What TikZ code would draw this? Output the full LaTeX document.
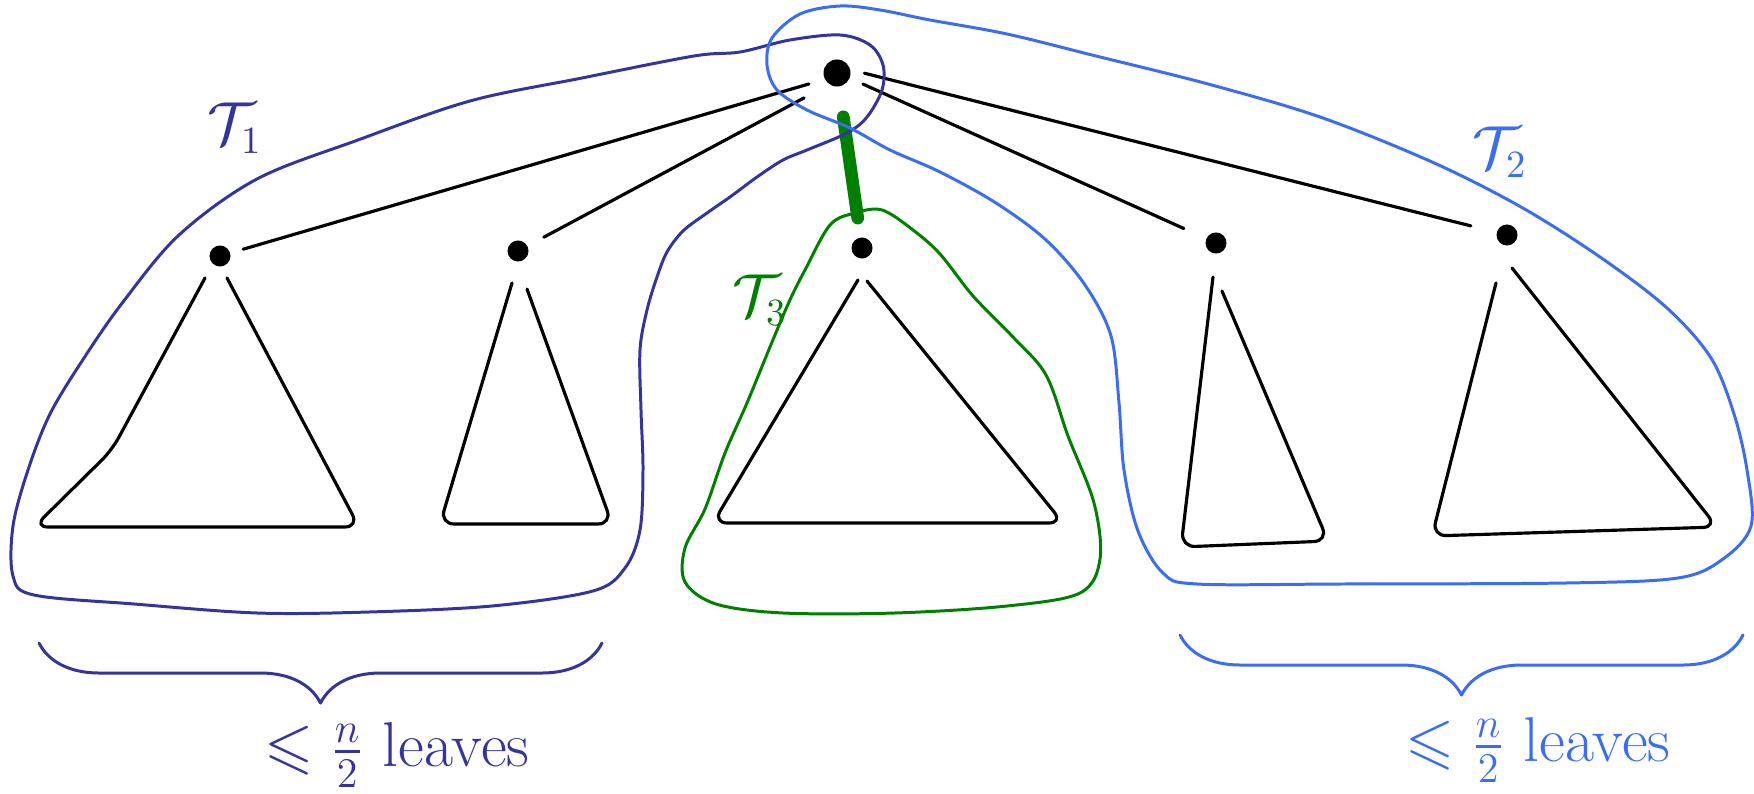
\documentclass[tikz,border=0pt]{standalone}
\usepackage{amsmath}
\usepackage{amssymb}
\usepackage{tikz}
\usetikzlibrary{decorations.pathreplacing, positioning, calc}
\definecolor{colorUno}{RGB}{52,52,158}
\definecolor{colorDos}{RGB}{58,108,245}
\definecolor{colorTres}{RGB}{0,128,0}

\begin{document}
\begin{tikzpicture}[x=0.01cm, y=-0.01cm, line cap=round, line join=round,
        vertex/.style={circle, fill=black, inner sep=0pt, minimum size=0.21cm},
        link/.style={black, line width=0.9pt, shorten >=0.12cm},
        heavy/.style={colorTres, line width=3.6pt, shorten <=0.3cm, shorten >=0.19cm},
        subtree/.style={black, line width=0.9pt, rounded corners=4pt},
        blob/.style={line width=0.85pt},
        groupbrace/.style={decorate, decoration={brace, mirror, amplitude=0.6cm}, line width=0.85pt},
        lbl/.style={font=\fontsize{16}{19}\selectfont},
        leaves/.style={font=\fontsize{18}{21}\selectfont, inner sep=1pt}]
        \useasboundingbox (0,0) rectangle (1754,794);
        \node[vertex, minimum size=0.27cm] (root) at (837,73) {};
        \node[vertex] (c1) at (220,256) {};
        \node[vertex] (c2) at (518,251) {};
        \node[vertex] (c3) at (862,248) {};
        \node[vertex] (c4) at (1216,243) {};
        \node[vertex] (c5) at (1507,235) {};
        \draw[link, shorten <=0.16cm, shorten >=0.13cm] (root.207) -- (c1);
        \draw[link, shorten <=0.28cm, shorten >=0.18cm] (root.235) -- (c2);
        \draw[link, shorten <=0.14cm, shorten >=0.24cm] (root.-22) -- (c4);
        \draw[link, shorten <=0.14cm, shorten >=0.26cm] (root.13) -- (c5);
        \draw[heavy] (root) -- (c3);
        \draw[subtree] (205,278) -- (112,450) -- (34,527) -- (359,527) -- (227,278);
        \draw[subtree] (512,283) -- (440,524) -- (612,524) -- (527,289);
        \draw[subtree] (858,280) -- (713,523) -- (1063,523) -- (867,281);
        \draw[subtree] (1213,277) -- (1181,547) -- (1328,541) -- (1222,291);
        \draw[subtree] (1496,283) -- (1432,536) -- (1717,527) -- (1512,268);
        \draw[blob, colorUno] plot[smooth cycle, tension=0.55] coordinates {
            (740,52) (790,40) (840,35) (870,45) (883,65) (882,90) (867,117) (847,133)
            (807,150) (783,160) (757,177) (730,197) (707,213) (683,231) (667,252)
            (657,277) (647,310) (640,350) (641,410) (643,470) (640,530) (625,568)
            (593,591) (492,606) (369,612) (257,613) (134,604) (34,595) (13,576)
            (13,526) (28,470) (50,414) (84,358) (123,302) (179,235) (257,179)
            (358,140) (470,101) (582,78) (694,56)};
        \draw[blob, colorDos] plot[smooth cycle, tension=0.55] coordinates {
            (840,6) (800,14) (772,38) (767,65) (777,90) (807,110) (850,128) (890,150)
            (940,172) (996,203) (1046,240) (1085,285) (1111,336) (1119,403) (1124,470)
            (1138,531) (1163,573) (1197,584) (1342,584) (1566,583) (1678,578) (1723,559)
            (1751,526) (1747,470) (1734,414) (1711,358) (1667,308) (1600,257) (1521,207)
            (1432,162) (1320,117) (1208,84) (1096,56) (1007,34) (930,20) (880,10)};
        \draw[blob, colorTres] plot[smooth cycle, tension=0.55] coordinates {
            (882,210) (913,230) (940,254) (973,296) (1012,336) (1046,375) (1068,436)
            (1094,503) (1100,559) (1080,593) (1007,606) (895,613) (783,613) (716,604)
            (685,582) (685,548) (705,509) (725,453) (747,403) (770,347) (789,302)
            (805,270) (830,225) (855,213)};
        \node[lbl, colorUno] (tUno) at (235,128) {$\mathcal{T}_1$};
        \node[lbl, colorDos] (tDos) at (1500,152) {$\mathcal{T}_2$};
        \node[lbl, colorTres] (tTres) at (760,300) {$\mathcal{T}_3$};
        \draw[groupbrace, colorUno] (39,643) -- (602,643);
        \draw[groupbrace, colorDos] (1180,635) -- (1743,635);
        \node[leaves, colorUno] (leavesUno) at (397,755) {$\leqslant \frac{n}{2}$ leaves};
        \node[leaves, colorDos] (leavesDos) at (1538,750) {$\leqslant \frac{n}{2}$ leaves};
\end{tikzpicture}
\end{document}
